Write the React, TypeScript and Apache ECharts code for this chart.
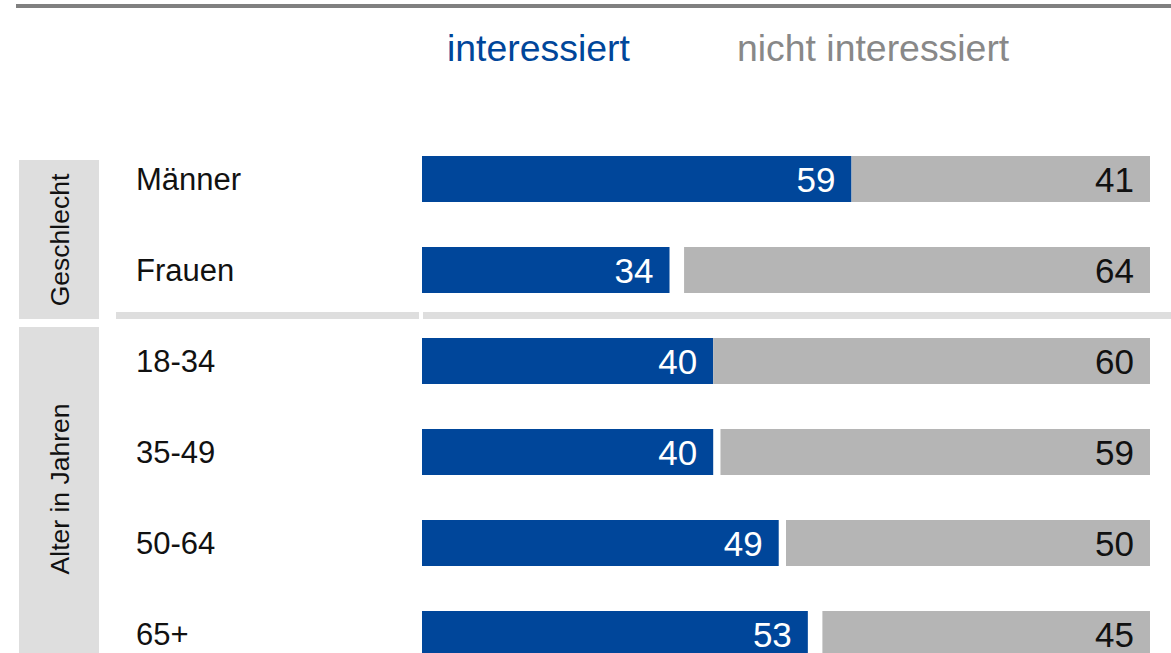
import React, { useEffect, useRef } from "react";
import * as echarts from "echarts";

const categories = ["Männer", "Frauen", "18-34", "35-49", "50-64", "65+"];
const interessiert = [59, 34, 40, 40, 49, 53];
const nichtInteressiert = [41, 64, 60, 59, 50, 45];
const groups = ["Geschlecht", "Alter in Jahren"];
const legendNames = ["interessiert", "nicht interessiert"];

const FONT = "'Liberation Sans', Arial, Helvetica, sans-serif";
const BLUE = "#00469a";
const GRAY = "#b5b5b5";

export default function App() {
  const ref = useRef<HTMLDivElement>(null);
  useEffect(() => {
    if (!ref.current) return;
    const chart = echarts.init(ref.current, null, { renderer: "svg" });
    const rest = interessiert.map((v, i) => 100 - v - nichtInteressiert[i]);
    chart.setOption({
      animation: false,
      textStyle: { fontFamily: FONT },
      grid: { left: 422, right: 21, top: 133.5, height: 546, containLabel: false },
      xAxis: { type: "value", min: 0, max: 100, show: false },
      yAxis: {
        type: "category",
        data: categories,
        inverse: true,
        axisLine: { show: false },
        axisTick: { show: false },
        splitLine: { show: false },
        axisLabel: { align: "left", margin: 286, fontSize: 31, color: "#111", fontFamily: FONT },
      },
      series: [
        {
          name: legendNames[0],
          type: "bar",
          stack: "a",
          barWidth: 46,
          data: interessiert,
          itemStyle: { color: BLUE },
          label: { show: true, position: "insideRight", distance: 16, color: "#fff", fontSize: 35, fontFamily: FONT },
        },
        {
          name: "rest",
          type: "bar",
          stack: "a",
          barWidth: 46,
          data: rest,
          silent: true,
          itemStyle: { color: "rgba(0,0,0,0)" },
          label: { show: false },
        },
        {
          name: legendNames[1],
          type: "bar",
          stack: "a",
          barWidth: 46,
          data: nichtInteressiert,
          itemStyle: { color: GRAY },
          label: { show: true, position: "insideRight", distance: 16, color: "#111", fontSize: 35, fontFamily: FONT },
        },
      ],
      graphic: [
        { type: "rect", shape: { x: 16, y: 4, width: 1155, height: 4 }, style: { fill: "#808080" } },
        { type: "rect", shape: { x: 116, y: 312, width: 303, height: 7 }, style: { fill: "#dedede" } },
        { type: "rect", shape: { x: 423, y: 312, width: 748, height: 7 }, style: { fill: "#dedede" } },
        { type: "rect", shape: { x: 19, y: 160, width: 80, height: 159 }, style: { fill: "#dedede" } },
        { type: "rect", shape: { x: 19, y: 327, width: 80, height: 380 }, style: { fill: "#dedede" } },
        {
          type: "text",
          x: 60,
          y: 240,
          rotation: Math.PI / 2,
          style: { text: groups[0], fontSize: 26.5, fontFamily: FONT, fill: "#111", textAlign: "center", textVerticalAlign: "middle" },
        },
        {
          type: "text",
          x: 60,
          y: 489,
          rotation: Math.PI / 2,
          style: { text: groups[1], fontSize: 26.5, fontFamily: FONT, fill: "#111", textAlign: "center", textVerticalAlign: "middle" },
        },
        {
          type: "text",
          x: 447,
          y: 48,
          style: { text: legendNames[0], fontSize: 37.4, fontFamily: FONT, fill: BLUE, textAlign: "left", textVerticalAlign: "middle" },
        },
        {
          type: "text",
          x: 737,
          y: 48,
          style: { text: legendNames[1], fontSize: 37.4, fontFamily: FONT, fill: "#888888", textAlign: "left", textVerticalAlign: "middle" },
        },
      ],
    });
    return () => chart.dispose();
  }, []);
  return (
    <div style={{ position: "absolute", left: 0, top: 0, width: 1171, height: 653, overflow: "hidden", background: "#fff" }}>
      <div ref={ref} style={{ width: 1171, height: 720 }} />
    </div>
  );
}
